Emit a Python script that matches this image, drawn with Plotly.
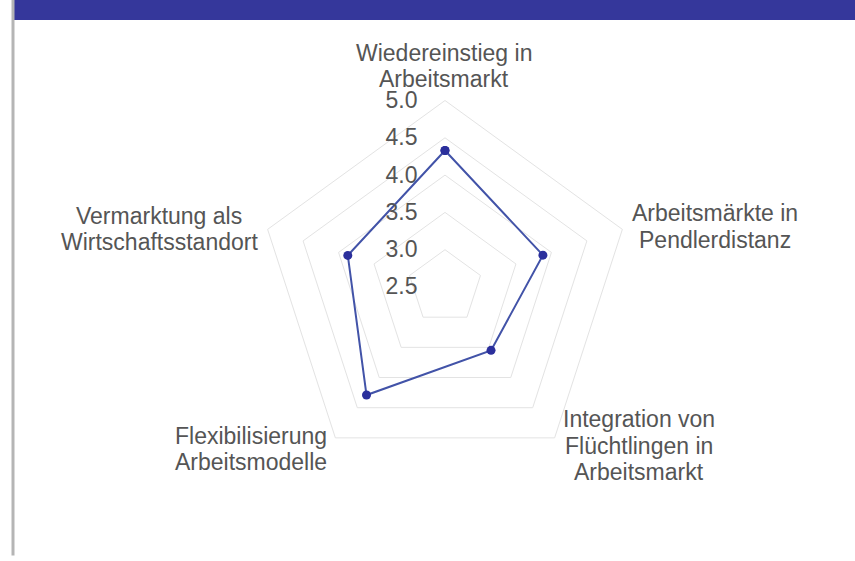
import plotly.graph_objects as go

categories = [
    "Wiedereinstieg in Arbeitsmarkt",
    "Arbeitsmärkte in Pendlerdistanz",
    "Integration von Flüchtlingen in Arbeitsmarkt",
    "Flexibilisierung Arbeitsmodelle",
    "Vermarktung als Wirtschaftsstandort",
]
category_lines = [
    ["Wiedereinstieg in", "Arbeitsmarkt"],
    ["Arbeitsmärkte in", "Pendlerdistanz"],
    ["Integration von", "Flüchtlingen in", "Arbeitsmarkt"],
    ["Flexibilisierung", "Arbeitsmodelle"],
    ["Vermarktung als", "Wirtschaftsstandort"],
]
values = [4.33, 3.88, 3.55, 4.29, 3.87]
radial_ticks = [2.5, 3.0, 3.5, 4.0, 4.5, 5.0]

W, H = 855, 561
cx, cy, R = 445, 287, 186.5
FONT = "Liberation Sans, Arial, sans-serif"
TXT = "#555555"

fig = go.Figure()
fig.add_trace(go.Scatterpolar(
    r=values + values[:1],
    theta=categories + categories[:1],
    mode="lines+markers",
    line=dict(color="#4253a8", width=2),
    marker=dict(color="#2b2f9c", size=9),
    showlegend=False,
    hoverinfo="skip",
))

xd = [(cx - 260) / W, (cx + 260) / W]
yd = [(H - cy - R) / H, (H - cy + R) / H]

label_pos = [(444, 52.5), (715, 213), (639, 419), (251, 435.5), (159, 215.5)]
LS = 26.5
annotations = []
for lines, (lx, ly) in zip(category_lines, label_pos):
    for i, t in enumerate(lines):
        annotations.append(dict(
            text=t, x=lx / W, y=1 - (ly + i * LS) / H, xref="paper", yref="paper",
            xanchor="center", yanchor="middle", showarrow=False,
            font=dict(family=FONT, size=23, color=TXT),
        ))

fig.update_layout(
    width=W, height=H,
    margin=dict(l=0, r=0, t=0, b=0),
    paper_bgcolor="white",
    font=dict(family=FONT, color=TXT, size=20),
    polar=dict(
        domain=dict(x=xd, y=yd),
        gridshape="linear",
        bgcolor="white",
        radialaxis=dict(
            range=[2.5, 5.0], tickvals=radial_ticks, tickformat=".1f",
            angle=90, tickangle=90, side="counterclockwise",
            showline=False, ticks="outside", ticklen=19, tickcolor="rgba(0,0,0,0)",
            gridcolor="#e3e3e3",
            tickfont=dict(family=FONT, size=23, color=TXT),
        ),
        angularaxis=dict(
            direction="clockwise", rotation=90, showgrid=False,
            showline=True, linecolor="#e3e3e3", ticks="",
            showticklabels=False,
        ),
    ),
    annotations=annotations,
    shapes=[
        dict(type="rect", xref="paper", yref="paper", x0=13 / W, x1=1, y0=1 - 20 / H, y1=1,
             fillcolor="#35379b", line=dict(width=0), layer="above"),
        dict(type="line", xref="paper", yref="paper", x0=13 / W, x1=13 / W, y0=0.01, y1=1,
             line=dict(color="#b5b5b5", width=3), layer="above"),
    ],
)

fig.write_html("out.html", config={"displayModeBar": False},
               post_script="document.body.style.margin='0';")
